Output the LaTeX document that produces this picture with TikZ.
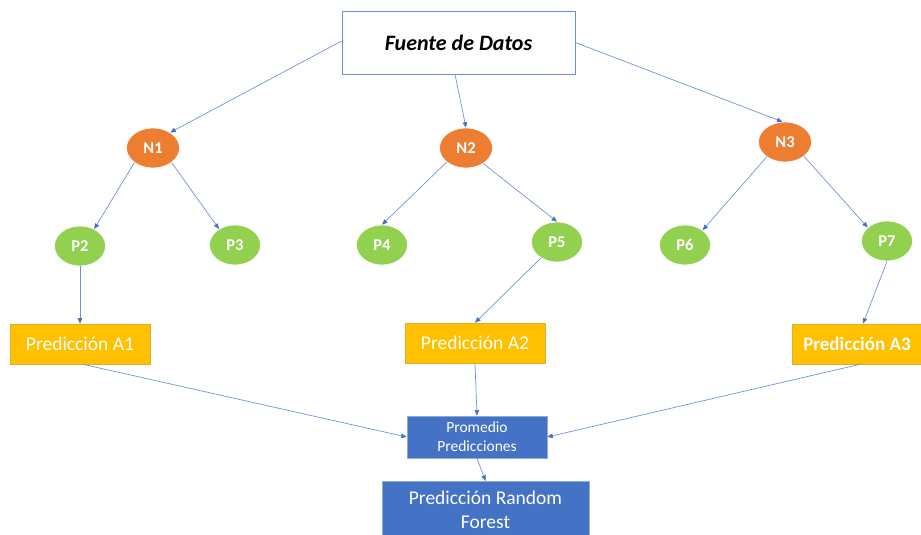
\documentclass[tikz,border=0pt]{standalone}
\usepackage{fontspec}
\setmainfont{Carlito}
\usetikzlibrary{shapes.geometric,arrows.meta}
\definecolor{srcborder}{HTML}{6F8FCB}
\definecolor{linkblue}{HTML}{6E93D6}
\definecolor{tipblue}{HTML}{4472C4}
\definecolor{nodeorange}{HTML}{ED7D31}
\definecolor{leafgreen}{HTML}{92D050}
\definecolor{predyellow}{HTML}{FFC000}
\definecolor{predborder}{HTML}{E0AE2A}
\definecolor{avgblue}{HTML}{4472C4}
\definecolor{avgborder}{HTML}{8FAADC}
\begin{document}
\begin{tikzpicture}[x=1pt,y=-1pt,
  source/.style={draw=srcborder,line width=0.8pt,fill=white,minimum width=233pt,minimum height=63pt,inner sep=0pt,font=\fontsize{22}{26}\selectfont\bfseries\itshape},
  inner/.style={ellipse,fill=nodeorange,draw=white,line width=0.6pt,minimum width=53pt,minimum height=40pt,inner sep=0pt,text=white,font=\fontsize{16.5}{18}\selectfont\bfseries},
  leaf/.style={ellipse,fill=leafgreen,draw=white,line width=0.6pt,minimum width=51pt,minimum height=40pt,inner sep=0pt,text=white,font=\fontsize{16.5}{18}\selectfont\bfseries},
  pred/.style={fill=predyellow,draw=predborder,line width=0.6pt,minimum width=140pt,minimum height=40pt,inner sep=0pt,text=white,font=\fontsize{19.5}{22}\selectfont},
  avg/.style={fill=avgblue,draw=avgborder,line width=0.6pt,inner sep=0pt,text=white,align=center},
  link/.style={draw=linkblue,line width=0.7pt,-{Triangle[length=5.5pt,width=4.5pt,fill=tipblue,color=tipblue]}}
]
\useasboundingbox (0,0) rectangle (921,535);

% data source
\node[source] (src) at (458.5,42.5) {Fuente de Datos};

% first-level nodes
\node[inner] (n1) at (153,148) {N1};
\node[inner] (n2) at (466,148) {N2};
\node[inner] (n3) at (785,142) {N3};

% leaves
\node[leaf] (p2) at (80,246) {P2};
\node[leaf] (p3) at (235,245) {P3};
\node[leaf] (p4) at (382,245) {P4};
\node[leaf] (p5) at (557,242) {P5};
\node[leaf] (p6) at (685,245) {P6};
\node[leaf] (p7) at (887,241) {P7};

% per-tree predictions
\node[pred] (a1) at (80,344) {Predicción A1};
\node[pred] (a2) at (475,343) {Predicción A2};
\node[pred,minimum width=130pt,font=\fontsize{19}{22}\selectfont\bfseries] (a3) at (857,344) {Predicción A3};

% aggregation
\node[avg,minimum width=140pt,minimum height=42pt,font=\fontsize{15.5}{19}\selectfont] (avg) at (477,437) {Promedio\\Predicciones};
\node[avg,minimum width=207pt,minimum height=56pt,anchor=north,font=\fontsize{19.5}{24}\selectfont] (rf) at (485.5,481) {Predicción Random\\Forest};

% connectors
\draw[link] ([yshift=1.5pt]src.west) -- (n1.42);
\draw[link] ([xshift=-3.5pt]src.south) -- (n2.north);
\draw[link] (src.east) -- (n3.97);

\draw[link] (n1.218) -- (p2.50);
\draw[link] (n1.-38) -- (p3.135);
\draw[link] (n2.216) -- (p4.north);
\draw[link] (n2.-42) -- (p5.north);
\draw[link] (n3.219) -- (p6.40);
\draw[link] (n3.-37) -- (p7.145);

\draw[link] (p2.south) -- (a1.north);
\draw[link] (p5.225) -- (a2.north);
\draw[link] (p7.south) -- ([xshift=6pt]a3.north);

\draw[link] ([xshift=3pt]a1.south) -- (avg.west);
\draw[link] (a2.south) -- (avg.north);
\draw[link] ([xshift=3pt]a3.south) -- (avg.east);
\draw[link] (avg.south) -- (rf.north);
\end{tikzpicture}
\end{document}
